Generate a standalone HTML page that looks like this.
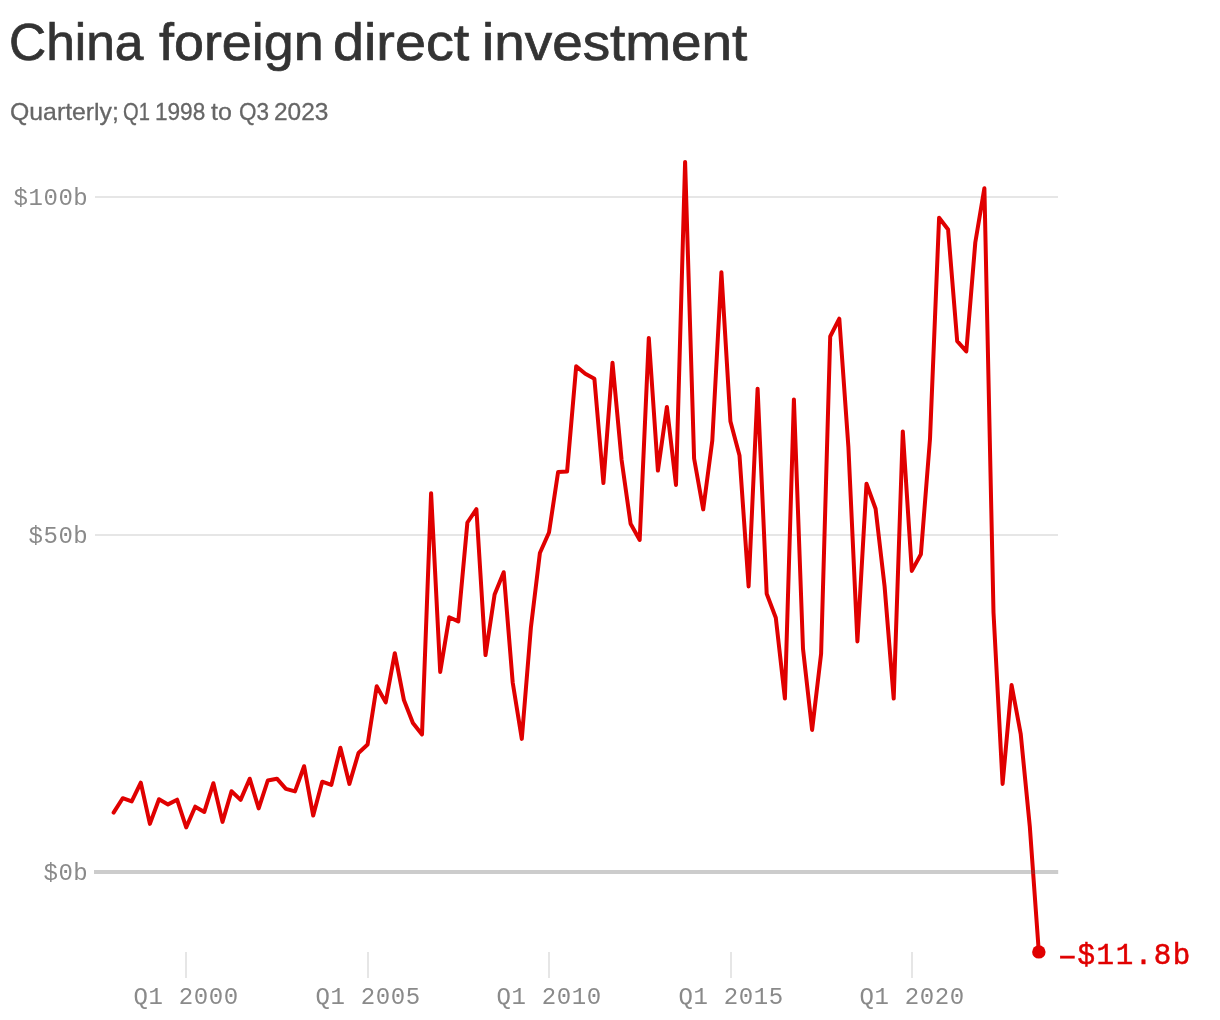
<!DOCTYPE html>
<html><head><meta charset="utf-8"><title>China foreign direct investment</title>
<style>
html,body{margin:0;padding:0;background:#fff;}
body{width:1220px;height:1020px;position:relative;overflow:hidden;font-family:"Liberation Sans",sans-serif;}
.t{position:absolute;white-space:nowrap;line-height:1;}
.w{top:17.1px;font-size:51.5px;color:#333;-webkit-text-stroke:0.7px #333;transform-origin:0 0;}
.s{top:99.6px;font-size:24px;color:#666;-webkit-text-stroke:0.3px #666;transform-origin:0 0;}
svg{position:absolute;left:0;top:0;}
svg text{font-family:"Liberation Mono",monospace;}
</style></head><body>
<div id="title"><span class="t w" style="left:9.24px;transform:scaleX(0.999)">China</span> <span class="t w" style="left:158.84px;transform:scaleX(1.0458)">foreign</span> <span class="t w" style="left:333.25px;transform:scaleX(1.0818)">direct</span> <span class="t w" style="left:481.54px;transform:scaleX(1.0654)">investment</span></div>
<div id="sub"><span class="t s" style="left:10.25px;transform:scaleX(1.0335)">Quarterly;</span> <span class="t s" style="left:123.2px;transform:scaleX(0.84)">Q1</span> <span class="t s" style="left:154.72px;transform:scaleX(0.9411)">1998</span> <span class="t s" style="left:211.34px;transform:scaleX(1.0412)">to</span> <span class="t s" style="left:238.84px;transform:scaleX(0.9375)">Q3</span> <span class="t s" style="left:274.0px;transform:scaleX(1.0186)">2023</span></div>
<svg width="1220" height="1020" viewBox="0 0 1220 1020">
<g stroke="#e6e6e6" stroke-width="2">
<line x1="95" x2="1058" y1="197" y2="197"/>
<line x1="95" x2="1058" y1="535" y2="535"/>
</g>
<g fill="#e6e6e6">
<rect x="185" y="952" width="2" height="26"/>
<rect x="367" y="952" width="2" height="26"/>
<rect x="548" y="952" width="2" height="26"/>
<rect x="730" y="952" width="2" height="26"/>
<rect x="911" y="952" width="2" height="26"/>
</g>
<g fill="#8a8a8a" font-size="24" letter-spacing="0.55" text-anchor="end">
<text x="88.3" y="205.2">$100b</text>
<text x="88.3" y="542.7">$50b</text>
<text x="88.3" y="880.2">$0b</text>
</g>
<g fill="#8a8a8a" font-size="24" letter-spacing="0.65" text-anchor="middle">
<text x="186.2" y="1004">Q1 2000</text>
<text x="368.2" y="1004">Q1 2005</text>
<text x="549.2" y="1004">Q1 2010</text>
<text x="731.2" y="1004">Q1 2015</text>
<text x="912.2" y="1004">Q1 2020</text>
</g>
<polyline fill="none" stroke="#e00000" stroke-width="4" stroke-linejoin="round" stroke-linecap="round" points="113.6,812.6 122.7,798.2 131.7,801.4 140.8,782.7 149.9,823.9 159.0,799.2 168.0,804.4 177.1,799.7 186.2,827.4 195.2,806.7 204.3,811.9 213.4,783.2 222.5,821.9 231.5,791.2 240.6,799.9 249.7,778.7 258.7,808.4 267.8,780.5 276.9,778.7 285.9,788.8 295.0,791.4 304.1,766.2 313.2,815.6 322.2,781.7 331.3,784.9 340.4,747.7 349.4,783.9 358.5,753.0 367.6,744.5 376.7,686.2 385.7,702.4 394.8,653.2 403.9,700.0 412.9,723.0 422.0,734.4 431.1,493.2 440.2,671.9 449.2,617.2 458.3,621.4 467.4,522.5 476.4,509.2 485.5,655.1 494.6,594.5 503.7,572.2 512.7,682.5 521.8,738.9 530.9,627.5 539.9,553.0 549.0,532.5 558.1,472.0 567.1,471.5 576.2,366.2 585.3,373.8 594.4,378.8 603.4,483.1 612.5,362.7 621.6,460.0 630.6,523.8 639.7,539.9 648.8,337.9 657.9,470.6 666.9,406.9 676.0,484.9 685.1,161.9 694.1,458.5 703.2,509.4 712.3,440.5 721.4,272.2 730.4,421.2 739.5,455.5 748.6,586.4 757.6,388.7 766.7,593.8 775.8,617.8 784.9,698.6 793.9,399.4 803.0,648.8 812.1,729.9 821.1,653.8 830.2,336.5 839.3,318.7 848.4,447.0 857.4,641.4 866.5,483.7 875.6,508.8 884.6,586.5 893.7,698.6 902.8,431.4 911.8,570.9 920.9,554.2 930.0,438.8 939.1,217.7 948.1,229.5 957.2,341.2 966.3,351.4 975.3,242.5 984.4,188.2 993.5,612.5 1002.6,783.9 1011.6,685.0 1020.7,733.8 1029.8,826.5 1038.8,951.8"/>
<line x1="94" x2="1058.2" y1="871.9" y2="871.9" stroke="#555555" stroke-opacity="0.3" stroke-width="4"/>
<circle cx="1038.85" cy="951.9" r="6.7" fill="#e00000"/>
<text x="1058.6" y="963.9" fill="#e00000" stroke="#e00000" stroke-width="0.5" font-size="29.2" letter-spacing="1.5"><tspan dy="3">−</tspan><tspan dy="-3">$11.8b</tspan></text>
</svg>
</body></html>
